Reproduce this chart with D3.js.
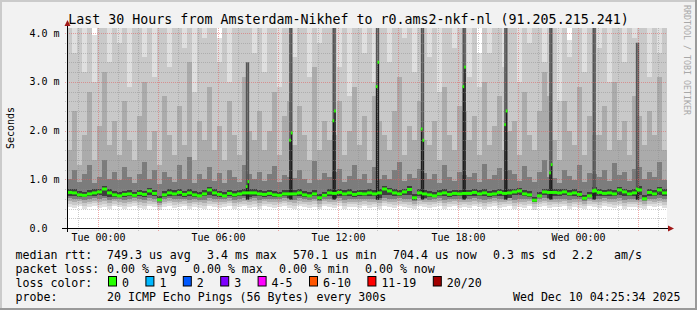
<!DOCTYPE html>
<html>
<head>
<meta charset="utf-8">
<script src="https://cdn.jsdelivr.net/npm/d3@7/dist/d3.min.js"></script>
<style>
  body { margin: 0; background: #f2f2f2; }
  text { font-family: "DejaVu Sans Mono", monospace; white-space: pre; }
</style>
</head>
<body>
<svg id="chart" width="697" height="310"></svg>
<script>
// 30 hours of smokeping data, 15 minute buckets, values in ms
const startTime = new Date(2025, 11, 8, 22, 28, 30);
const hours = 30;
const bucketMinutes = 15;

const median = [0.73,0.72,0.68,0.67,0.70,0.72,0.74,0.80,0.72,0.68,
  0.66,0.69,0.70,0.67,0.71,0.69,0.76,0.71,0.58,0.68,
  0.72,0.70,0.73,0.69,0.72,0.68,0.66,0.70,0.78,0.72,
  0.69,0.66,0.71,0.68,0.70,0.72,0.72,0.72,0.70,0.69,
  0.71,0.68,0.67,0.70,0.70,0.70,0.72,0.68,0.66,0.70,
  0.62,0.67,0.72,0.71,0.73,0.70,0.72,0.69,0.71,0.70,
  0.72,0.70,0.72,0.80,0.76,0.72,0.70,0.74,0.79,0.62,
  0.72,0.70,0.68,0.66,0.70,0.72,0.69,0.71,0.70,0.71,
  0.71,0.73,0.70,0.72,0.69,0.70,0.73,0.71,0.72,0.74,
  0.76,0.70,0.68,0.57,0.66,0.74,0.73,0.73,0.72,0.74,
  0.70,0.72,0.69,0.61,0.66,0.76,0.73,0.71,0.72,0.70,
  0.78,0.74,0.70,0.72,0.78,0.60,0.73,0.70,0.78,0.72];

// smoke bands, outermost (1) to innermost (5)
const lo1 = [0.44,0.42,0.45,0.40,0.43,0.46,0.41,0.44,0.38,0.45,
  0.43,0.40,0.44,0.46,0.42,0.39,0.45,0.43,0.37,0.44,
  0.46,0.41,0.43,0.45,0.40,0.44,0.42,0.38,0.45,0.43,
  0.41,0.44,0.46,0.40,0.43,0.45,0.42,0.44,0.39,0.45,
  0.43,0.41,0.44,0.46,0.42,0.40,0.45,0.43,0.41,0.44,
  0.38,0.45,0.43,0.42,0.46,0.40,0.44,0.43,0.41,0.45,
  0.42,0.44,0.40,0.46,0.43,0.41,0.45,0.44,0.42,0.38,
  0.45,0.43,0.41,0.44,0.46,0.40,0.43,0.45,0.42,0.44,
  0.41,0.45,0.43,0.39,0.44,0.46,0.42,0.43,0.45,0.40,
  0.44,0.42,0.45,0.37,0.43,0.46,0.41,0.44,0.43,0.45,
  0.40,0.44,0.42,0.38,0.45,0.43,0.41,0.46,0.44,0.42,
  0.45,0.40,0.43,0.44,0.41,0.39,0.45,0.43,0.46,0.42];
const lo2 = [0.49,0.48,0.50,0.46,0.49,0.51,0.47,0.50,0.45,0.50,
  0.48,0.46,0.49,0.51,0.48,0.45,0.50,0.49,0.43,0.49,
  0.51,0.47,0.49,0.50,0.46,0.49,0.47,0.45,0.50,0.49,
  0.47,0.49,0.51,0.46,0.49,0.50,0.48,0.50,0.45,0.50,
  0.49,0.47,0.49,0.51,0.48,0.46,0.50,0.49,0.47,0.50,
  0.44,0.50,0.49,0.48,0.51,0.46,0.49,0.49,0.47,0.50,
  0.48,0.49,0.46,0.51,0.49,0.47,0.50,0.49,0.48,0.45,
  0.50,0.49,0.47,0.49,0.51,0.46,0.49,0.50,0.48,0.49,
  0.47,0.50,0.49,0.45,0.49,0.51,0.48,0.49,0.50,0.46,
  0.49,0.48,0.50,0.44,0.49,0.51,0.47,0.49,0.49,0.50,
  0.46,0.49,0.48,0.45,0.50,0.49,0.47,0.51,0.49,0.48,
  0.50,0.46,0.49,0.49,0.47,0.45,0.50,0.49,0.51,0.48];
const lo3 = [0.55,0.54,0.55,0.52,0.54,0.56,0.53,0.55,0.51,0.55,
  0.54,0.52,0.54,0.56,0.53,0.51,0.55,0.54,0.48,0.54,
  0.56,0.53,0.54,0.55,0.52,0.54,0.53,0.51,0.55,0.54,
  0.53,0.54,0.56,0.52,0.54,0.55,0.54,0.55,0.51,0.55,
  0.54,0.53,0.54,0.56,0.54,0.52,0.55,0.54,0.53,0.55,
  0.50,0.55,0.54,0.54,0.56,0.52,0.54,0.54,0.53,0.55,
  0.54,0.54,0.52,0.56,0.54,0.53,0.55,0.54,0.53,0.50,
  0.55,0.54,0.53,0.54,0.56,0.52,0.54,0.55,0.54,0.54,
  0.53,0.55,0.54,0.51,0.54,0.56,0.54,0.54,0.55,0.52,
  0.54,0.54,0.55,0.49,0.54,0.56,0.54,0.54,0.54,0.55,
  0.52,0.54,0.54,0.50,0.55,0.54,0.53,0.56,0.54,0.54,
  0.55,0.52,0.54,0.54,0.53,0.50,0.55,0.54,0.56,0.54];
const lo4 = [0.61,0.60,0.60,0.58,0.60,0.62,0.59,0.61,0.57,0.60,
  0.60,0.58,0.60,0.61,0.59,0.57,0.61,0.60,0.52,0.59,
  0.61,0.59,0.60,0.60,0.58,0.60,0.58,0.57,0.61,0.60,
  0.59,0.59,0.61,0.58,0.60,0.61,0.60,0.61,0.57,0.60,
  0.60,0.59,0.59,0.61,0.60,0.58,0.61,0.60,0.58,0.60,
  0.55,0.60,0.60,0.60,0.61,0.58,0.60,0.59,0.59,0.60,
  0.60,0.60,0.58,0.61,0.60,0.59,0.61,0.60,0.59,0.55,
  0.61,0.60,0.58,0.59,0.61,0.58,0.60,0.60,0.60,0.60,
  0.59,0.61,0.60,0.57,0.60,0.61,0.60,0.60,0.61,0.58,
  0.60,0.59,0.60,0.53,0.59,0.61,0.60,0.60,0.60,0.60,
  0.58,0.60,0.59,0.56,0.60,0.60,0.59,0.61,0.60,0.60,
  0.61,0.58,0.60,0.60,0.59,0.55,0.60,0.60,0.61,0.60];
const lo5 = [0.66,0.65,0.64,0.63,0.65,0.66,0.67,0.66,0.64,0.64,
  0.63,0.64,0.65,0.64,0.65,0.64,0.67,0.65,0.55,0.64,
  0.66,0.65,0.66,0.64,0.65,0.64,0.63,0.65,0.68,0.66,
  0.64,0.63,0.65,0.64,0.65,0.66,0.64,0.66,0.65,0.64,
  0.65,0.64,0.63,0.65,0.62,0.65,0.66,0.64,0.63,0.65,
  0.58,0.64,0.66,0.62,0.66,0.65,0.66,0.64,0.65,0.65,
  0.66,0.65,0.62,0.68,0.67,0.66,0.65,0.67,0.68,0.58,
  0.66,0.62,0.64,0.63,0.65,0.66,0.64,0.66,0.65,0.62,
  0.65,0.66,0.65,0.66,0.64,0.65,0.66,0.65,0.62,0.67,
  0.68,0.65,0.64,0.54,0.63,0.67,0.62,0.66,0.66,0.67,
  0.65,0.66,0.64,0.58,0.63,0.66,0.66,0.65,0.66,0.65,
  0.67,0.66,0.65,0.66,0.67,0.57,0.66,0.65,0.68,0.66];
const hi5 = [0.80,0.79,0.75,0.74,0.77,0.79,0.81,0.87,0.79,0.75,
  0.73,0.76,0.77,0.74,0.78,0.76,0.83,0.78,0.66,0.75,
  0.79,0.77,0.80,0.76,0.79,0.75,0.73,0.77,0.85,0.79,
  0.76,0.73,0.78,0.75,0.77,0.79,0.79,0.79,0.77,0.76,
  0.78,0.75,0.74,0.77,0.77,0.77,0.79,0.75,0.73,0.77,
  0.69,0.74,0.79,0.78,0.80,0.77,0.79,0.76,0.78,0.77,
  0.79,0.77,0.79,0.87,0.83,0.79,0.77,0.81,0.86,0.69,
  0.79,0.77,0.75,0.73,0.77,0.79,0.76,0.78,0.77,0.78,
  0.78,0.80,0.77,0.79,0.76,0.77,0.80,0.78,0.79,0.81,
  0.83,0.77,0.75,0.64,0.73,0.81,0.80,0.80,0.79,0.81,
  0.77,0.79,0.76,0.68,0.73,0.85,0.80,0.78,0.79,0.77,
  0.85,0.81,0.77,0.79,0.86,0.67,0.80,0.77,0.85,0.79];
const hi4 = [1.00,1.20,0.95,1.10,1.30,0.92,1.05,1.40,1.00,1.15,
  0.98,1.25,1.05,0.93,1.10,1.35,1.00,1.20,0.90,1.15,
  1.05,0.95,1.30,1.00,1.45,0.92,1.10,1.00,1.25,0.97,
  1.12,0.93,1.20,1.05,0.95,1.30,1.10,1.00,1.15,0.96,
  1.10,1.28,0.94,1.08,1.05,1.02,1.20,1.00,0.92,1.38,
  0.98,1.12,1.04,1.15,1.22,0.95,1.06,1.30,1.00,1.10,
  0.93,1.25,1.00,1.08,1.00,1.18,1.35,0.96,1.10,1.02,
  1.22,1.12,1.00,1.10,0.93,1.30,1.05,0.97,1.15,1.08,
  1.04,1.12,0.95,1.32,1.00,1.08,1.24,0.98,1.20,1.10,
  0.96,1.28,1.05,0.94,1.15,1.40,1.05,1.02,0.93,1.20,
  1.06,0.98,1.30,0.95,1.12,1.10,1.04,1.18,0.97,1.34,
  1.08,1.15,0.96,1.22,1.25,1.00,1.14,1.05,1.36,0.99];
const hi3 = [1.6,2.4,1.3,1.9,2.8,1.4,2.1,3.2,1.7,2.2,
  1.5,2.6,1.8,1.4,2.3,3.0,1.6,2.0,1.3,2.7,
  1.9,1.5,2.5,1.7,3.4,1.4,2.2,1.8,2.9,1.6,
  2.1,1.4,2.6,1.9,1.5,3.1,2.0,1.8,2.4,1.6,
  2.0,2.8,1.5,2.3,2.6,1.7,2.5,1.9,1.4,3.3,
  1.6,2.2,1.8,1.9,2.6,1.5,2.0,2.9,1.7,2.3,
  1.4,2.7,2.2,1.9,1.6,2.4,3.1,1.5,2.1,1.8,
  2.6,1.8,1.7,2.2,1.4,2.9,1.9,1.6,2.5,2.4,
  1.8,2.3,1.5,3.0,1.7,2.1,2.7,1.6,2.0,2.2,
  1.5,2.8,1.9,1.6,2.4,3.2,2.7,1.8,1.4,2.6,
  2.0,1.7,2.9,1.5,2.3,1.9,1.9,2.5,1.6,3.0,
  1.8,2.2,1.5,2.7,2.3,1.7,2.4,1.9,3.1,1.6];
const hi2 = [4.5,3.6,4.5,3.2,4.5,3.0,4.5,4.5,3.4,4.5,
  3.8,4.5,2.9,4.5,4.5,3.5,4.5,3.1,4.5,4.5,
  3.3,4.5,4.5,3.7,4.5,2.8,4.5,3.9,4.5,4.5,
  3.4,4.5,3.0,4.5,4.5,4.5,4.5,3.6,4.5,3.2,
  4.5,4.5,2.9,4.5,4.5,3.5,4.5,4.5,3.1,4.5,
  3.8,4.5,4.5,4.5,3.3,4.5,2.7,4.5,4.5,3.6,
  4.5,3.0,4.5,4.5,3.4,4.5,4.5,3.9,4.5,3.2,
  4.5,4.5,3.5,4.5,2.8,4.5,4.5,3.7,4.5,4.5,
  3.1,4.5,2.9,4.5,3.6,4.5,4.5,3.3,4.5,4.5,
  3.0,4.5,3.8,4.5,4.5,3.4,4.5,4.5,2.6,4.5,
  3.5,4.5,4.5,3.2,4.5,4.5,3.7,4.5,3.0,4.5,
  4.5,3.4,4.5,3.9,4.5,4.5,3.1,4.5,3.6,4.5];
const hi1 = [4.5,4.5,4.5,4.5,4.5,3.95,4.5,4.5,4.5,4.5,
  4.5,4.5,4.5,4.5,4.5,4.5,4.5,4.5,4.5,4.5,
  4.5,4.5,4.5,4.5,4.5,4.5,4.5,4.5,4.5,4.5,
  3.9,4.5,4.5,4.5,4.5,4.5,4.5,4.5,4.5,4.5,
  4.5,4.5,4.5,4.5,4.5,4.5,4.5,4.5,4.5,4.5,
  4.5,4.5,4.5,4.5,4.5,4.5,4.5,4.5,4.5,4.5,
  4.0,4.5,4.5,4.5,4.5,4.5,4.5,4.5,4.5,4.5,
  4.5,4.5,4.5,4.5,4.5,4.5,4.5,4.5,4.5,4.5,
  4.5,4.5,3.6,4.5,4.5,4.5,4.5,4.5,4.5,4.5,
  4.5,4.5,4.5,4.5,4.5,4.5,4.5,4.5,4.5,4.5,
  3.85,4.5,4.5,4.5,4.5,4.5,4.5,4.5,4.5,4.5,
  4.5,4.5,3.9,4.5,4.5,4.5,4.5,4.5,4.5,4.5];

// short bursts of high latency, 5 minute steps
const spikeStart = ["2025-12-09 07:25", "2025-12-09 09:35", "2025-12-09 11:45", "2025-12-09 13:55",
  "2025-12-09 16:10", "2025-12-09 18:15", "2025-12-09 20:20", "2025-12-09 22:35",
  "2025-12-10 00:45", "2025-12-10 02:55"];
const spikeMedian = [[0.85, 0.95], [1.80, 1.95], [2.20, 2.40], [2.90, 3.40],
  [2.03, 1.80], [2.90, 3.30], [2.12, 2.40], [1.13, 1.30],
  [0.76, 0.78], [0.80, 0.78]];
const spikeTop = [3.4, 4.5, 4.5, 4.5, 4.5, 4.5, 4.5, 4.5, 4.5, 3.8];
const spikeFloor = 0.58;

const yMajor = [1, 2, 3, 4];
const yLabels = ["0.0", "1.0 m", "2.0 m", "3.0 m", "4.0 m"];
const lossLabels = ["0", "1", "2", "3", "4-5", "6-10", "11-19", "20/20"];
const lossColors = ["#26ff00", "#00b8ff", "#0059ff", "#7e00ff", "#ff00ff", "#ff5500", "#ff0000", "#a10000"];
const rttLabel = "median rtt:";
const rttItems = ["749.3 us avg", "3.4 ms max", "570.1 us min", "704.4 us now", "0.3 ms sd", "2.2", "am/s"];
const lossLabel = "packet loss:";
const lossItems = ["0.00 % avg", "0.00 % max", "0.00 % min", "0.00 % now"];
const colorLabel = "loss color:";
const probeLabel = "probe:";
const probeText = "20 ICMP Echo Pings (56 Bytes) every 300s";
const stamp = "Wed Dec 10 04:25:34 2025";
const title = "Last 30 Hours from Amsterdam-Nikhef to r0.ams2-nkf-nl (91.205.215.241)";

const W = 697, H = 310;
const pL = 67, pR = 667, pT = 28, pB = 228;
const yMax = 4.103;

const svg = d3.select("#chart");
const endTime = d3.timeMinute.offset(startTime, hours * 60);
const bucketTime = i => d3.timeMinute.offset(startTime, i * bucketMinutes);
const parse = d3.timeParse("%Y-%m-%d %H:%M");

const x = d3.scaleTime().domain([startTime, endTime]).range([pL, pR]);
const y = d3.scaleLinear().domain([0, yMax]).range([pB, pT]);

// frame
svg.append("rect").attr("width", W).attr("height", H).attr("fill", "#f2f2f2");
svg.append("path").attr("d", `M0,0H${W}V2H2V${H}H0Z`).attr("fill", "#cbcbcb");
svg.append("path").attr("d", `M${W},${H}H0V${H-2}H${W-2}V0H${W}Z`).attr("fill", "#9a9a9a");
svg.append("rect").attr("x", pL).attr("y", pT).attr("width", pR - pL).attr("height", pB - pT).attr("fill", "#fff");

svg.append("defs").append("clipPath").attr("id", "plot")
  .append("rect").attr("x", pL).attr("y", pT).attr("width", pR - pL).attr("height", pB - pT);

// smoke
const bands = [
  {lo: lo1, hi: hi1, color: "#dfdfdf"},
  {lo: lo2, hi: hi2, color: "#c9c9c9"},
  {lo: lo3, hi: hi3, color: "#ababab"},
  {lo: lo4, hi: hi4, color: "#7c7c7c"},
  {lo: lo5, hi: hi5, color: "#3e3e3e"}
];
const clipY = v => y(Math.min(v, yMax));
const smoke = svg.append("g").attr("clip-path", "url(#plot)").attr("shape-rendering", "crispEdges");
bands.forEach(b => {
  smoke.append("g").selectAll("rect")
    .data(d3.range(median.length))
    .join("rect")
      .attr("x", i => x(bucketTime(i)))
      .attr("width", i => x(bucketTime(i + 1)) - x(bucketTime(i)))
      .attr("y", i => clipY(b.hi[i]))
      .attr("height", i => y(b.lo[i]) - clipY(b.hi[i]))
      .attr("fill", b.color);
});

// spike steps
const steps = [];
spikeStart.forEach((s, k) => {
  spikeMedian[k].forEach((m, j) => {
    const t0 = d3.timeMinute.offset(parse(s), j * 5);
    steps.push({t0, t1: d3.timeMinute.offset(t0, 5), med: m, top: spikeTop[k]});
  });
});
const sp = svg.append("g").attr("clip-path", "url(#plot)");
sp.selectAll("rect.up")
  .data(steps)
  .join("rect")
    .attr("x", d => x(d.t0)).attr("width", d => x(d.t1) - x(d.t0))
    .attr("y", d => clipY(d.top)).attr("height", d => y(d.med) - clipY(d.top))
    .attr("fill", "#555");
sp.selectAll("rect.core")
  .data(steps)
  .join("rect")
    .attr("x", d => x(d.t0)).attr("width", d => x(d.t1) - x(d.t0))
    .attr("y", d => y(d.med)).attr("height", d => y(spikeFloor) - y(d.med))
    .attr("fill", "#1e1e1e");

// grid
const grid = svg.append("g").attr("shape-rendering", "crispEdges");
const hourTicks = d3.timeHour.every(1).range(startTime, endTime);
grid.selectAll("line.v")
  .data(hourTicks)
  .join("line")
    .attr("x1", d => Math.round(x(d)) + 0.5).attr("x2", d => Math.round(x(d)) + 0.5)
    .attr("y1", pT).attr("y2", pB + 3)
    .attr("stroke", d => d.getHours() % 3 === 0 ? "rgba(222,95,95,0.55)" : "rgba(140,140,140,0.45)")
    .attr("stroke-dasharray", "1,1");
const yMinor = d3.range(1, 21).map(k => k / 5).filter(v => Math.abs(v - Math.round(v)) > 1e-6);
grid.selectAll("line.h")
  .data(yMinor.map(v => ({v, major: false})).concat(yMajor.map(v => ({v, major: true}))))
  .join("line")
    .attr("x1", pL - 2).attr("x2", pR)
    .attr("y1", d => Math.round(y(d.v)) + 0.5).attr("y2", d => Math.round(y(d.v)) + 0.5)
    .attr("stroke", d => d.major ? "rgba(222,95,95,0.55)" : "rgba(140,140,140,0.45)")
    .attr("stroke-dasharray", "1,1");

// median marks
const mark = svg.append("g").attr("clip-path", "url(#plot)").attr("fill", lossColors[0]);
mark.selectAll("rect.m")
  .data(median)
  .join("rect")
    .attr("x", (d, i) => x(bucketTime(i)))
    .attr("width", (d, i) => x(bucketTime(i + 1)) - x(bucketTime(i)))
    .attr("y", d => y(d) - 1.5)
    .attr("height", 3);
mark.selectAll("rect.s")
  .data(steps)
  .join("rect")
    .attr("x", d => x(d.t0)).attr("width", d => x(d.t1) - x(d.t0))
    .attr("y", d => y(d.med) - 1.5)
    .attr("height", 3);

// axes
const ax = svg.append("g").attr("shape-rendering", "crispEdges");
ax.append("line").attr("x1", pL - 5).attr("x2", pR + 3).attr("y1", pB + 0.5).attr("y2", pB + 0.5).attr("stroke", "#000");
ax.append("line").attr("x1", pL + 0.5).attr("x2", pL + 0.5).attr("y1", pB + 4).attr("y2", pT - 3).attr("stroke", "#000");
svg.append("path").attr("d", `M${pR + 1},${pB - 2.5}L${pR + 7},${pB + 0.5}L${pR + 1},${pB + 3.5}Z`).attr("fill", "#a01818");
svg.append("path").attr("d", `M${pL - 2.5},${pT - 2}L${pL + 0.5},${pT - 8}L${pL + 3.5},${pT - 2}Z`).attr("fill", "#a01818");

// axis labels
svg.append("g").selectAll("text")
  .data([0].concat(yMajor))
  .join("text")
    .attr("x", 29.5)
    .attr("y", d => y(d) + 3.5)
    .attr("font-size", 10)
    .text((d, i) => yLabels[i]);
const fmt = d3.timeFormat("%a %H:%M");
svg.append("g").selectAll("text")
  .data(d3.timeHour.every(6).range(startTime, endTime))
  .join("text")
    .attr("x", d => x(d) + 1)
    .attr("y", 241)
    .attr("text-anchor", "middle")
    .attr("font-size", 10)
    .text(d => fmt(d));

svg.append("text")
  .attr("transform", `translate(14,${(pT + pB) / 2}) rotate(-90)`)
  .attr("text-anchor", "middle")
  .attr("font-size", 10)
  .text("Seconds");

svg.append("text")
  .attr("x", W / 2).attr("y", 24)
  .attr("text-anchor", "middle")
  .attr("font-size", 13.3)
  .text(title);

svg.append("text")
  .attr("transform", "translate(684,5) rotate(90)")
  .attr("font-size", 8.3)
  .attr("fill", "#a8a8a8")
  .text("RRDTOOL / TOBI OETIKER");

// legend: items flow left to right with a fixed gap
const leg = svg.append("g").attr("font-size", 11.6);
const charW = 7, gap = 16, col2 = 107;
const rowY = [258.5, 272.5, 286.5, 300.5];
function flow(items, yy) {
  let lx = col2;
  items.forEach(t => {
    leg.append("text").attr("x", lx).attr("y", yy).text(t);
    lx += t.length * charW + gap;
  });
}
[rttLabel, lossLabel, colorLabel, probeLabel].forEach((t, i) =>
  leg.append("text").attr("x", 15.5).attr("y", rowY[i]).text(t));
flow(rttItems.slice(0, 6), rowY[0]);
leg.append("text").attr("x", 614).attr("y", rowY[0]).text(rttItems[6]);
flow(lossItems, rowY[1]);
flow([probeText], rowY[3]);
leg.append("text").attr("x", 680.5).attr("y", rowY[3]).attr("text-anchor", "end").text(stamp);

let bx = 108.5;
const boxes = [];
lossLabels.forEach(l => { boxes.push({l, x: bx}); bx += 14.4 + l.length * charW + gap; });
const lb = leg.selectAll("g.box").data(boxes).join("g");
lb.append("rect")
  .attr("x", d => d.x).attr("y", 276.5)
  .attr("width", 8).attr("height", 9.5)
  .attr("fill", (d, i) => lossColors[i])
  .attr("stroke", "#000");
lb.append("text")
  .attr("x", d => d.x + 13.5)
  .attr("y", rowY[2])
  .text(d => d.l);
</script>
</body>
</html>
